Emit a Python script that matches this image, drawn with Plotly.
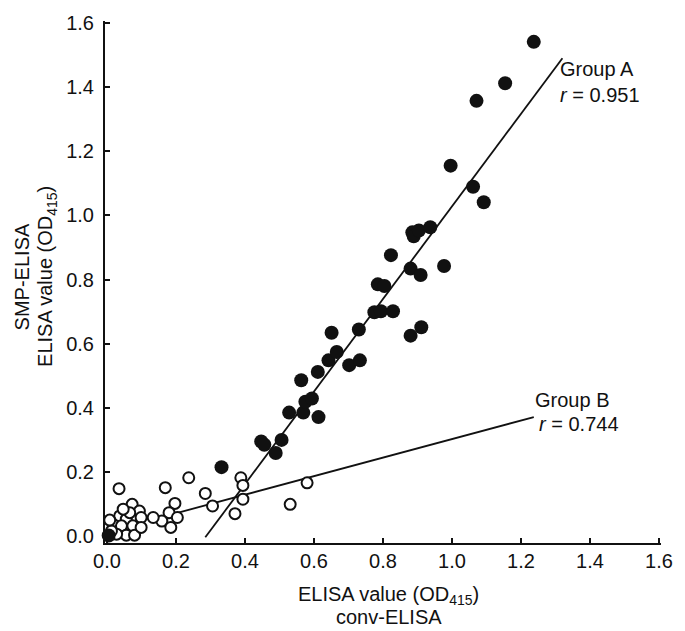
import plotly.graph_objects as go
import numpy as np

# ---- data ----
groupA_x = [0.005, 0.332, 0.447, 0.456, 0.489, 0.506, 0.528, 0.563, 0.569, 0.575,
            0.594, 0.611, 0.613, 0.642, 0.651, 0.666, 0.702, 0.730, 0.733, 0.775,
            0.794, 0.785, 0.804, 0.823, 0.829, 0.880, 0.911, 0.880, 0.909, 0.977,
            0.885, 0.889, 0.904, 0.937, 0.996, 1.061, 1.092, 1.071, 1.154, 1.237]
groupA_y = [0.002, 0.215, 0.295, 0.285, 0.259, 0.300, 0.385, 0.486, 0.385, 0.419,
            0.429, 0.512, 0.371, 0.548, 0.634, 0.574, 0.533, 0.644, 0.548, 0.698,
            0.701, 0.785, 0.780, 0.876, 0.701, 0.625, 0.651, 0.834, 0.814, 0.842,
            0.947, 0.935, 0.953, 0.963, 1.155, 1.089, 1.041, 1.357, 1.412, 1.541]

groupB_x = [0.035, 0.169, 0.237, 0.197, 0.285, 0.306, 0.371, 0.388, 0.394, 0.394,
            0.531, 0.580, 0.180, 0.204, 0.159, 0.185, 0.134, 0.018, 0.037, 0.056,
            0.073, 0.094, 0.099, 0.042, 0.075, 0.056, 0.080, 0.028, 0.099, 0.013,
            0.066, 0.047, 0.008]
groupB_y = [0.148, 0.151, 0.182, 0.102, 0.133, 0.094, 0.070, 0.182, 0.158, 0.115,
            0.099, 0.166, 0.073, 0.058, 0.047, 0.027, 0.058, 0.042, 0.063, 0.053,
            0.099, 0.078, 0.058, 0.032, 0.032, 0.003, 0.003, 0.006, 0.027, 0.016,
            0.073, 0.084, 0.050]

# regression fits: slope, intercept, x-extent
fitA_slope, fitA_intercept, fitA_xrange = 1.443, -0.415, [0.285, 1.32]
fitB_slope, fitB_intercept, fitB_xrange = 0.289, 0.0135, [0.14, 1.237]

labelA = ["Group A", "<i>r</i> = 0.951"]
labelB = ["Group B", "<i>r</i> = 0.744"]

tick_vals = [0.0, 0.2, 0.4, 0.6, 0.8, 1.0, 1.2, 1.4, 1.6]
tick_text = ["0.0", "0.2", "0.4", "0.6", "0.8", "1.0", "1.2", "1.4", "1.6"]

FONT = "Liberation Sans, Arial, Helvetica, sans-serif"
INK = "#111111"

fig = go.Figure()

for xr, m, b in [(fitA_xrange, fitA_slope, fitA_intercept),
                 (fitB_xrange, fitB_slope, fitB_intercept)]:
    xs = np.array(xr)
    fig.add_trace(go.Scatter(x=xs, y=m * xs + b, mode="lines",
                             line=dict(color=INK, width=1.8),
                             showlegend=False, hoverinfo="skip", cliponaxis=False))

fig.add_trace(go.Scatter(x=groupB_x, y=groupB_y, mode="markers",
                         marker=dict(symbol="circle", size=11, color="white",
                                     line=dict(color=INK, width=2)),
                         showlegend=False, cliponaxis=False))
fig.add_trace(go.Scatter(x=groupA_x, y=groupA_y, mode="markers",
                         marker=dict(symbol="circle", size=14, color=INK,
                                     line=dict(color=INK, width=0)),
                         showlegend=False, cliponaxis=False))

axis_common = dict(showline=True, linecolor=INK, linewidth=2, ticks="inside",
                   ticklen=5, tickwidth=2, tickcolor=INK, showgrid=False,
                   zeroline=False, tickvals=tick_vals, ticktext=tick_text,
                   tickfont=dict(family=FONT, size=20, color=INK), mirror=False)

fig.update_xaxes(range=[-0.0057, 1.6057], ticklabelstandoff=-1, **axis_common)
fig.update_yaxes(range=[-0.0215, 1.606], ticklabelstandoff=5, **axis_common)

ann = []
# group labels
ann.append(dict(x=1.307, y=1.455, text=labelA[0], xanchor="left", yanchor="middle"))
ann.append(dict(x=1.307, y=1.375, text=labelA[1], xanchor="left", yanchor="middle"))
ann.append(dict(x=1.236, y=0.425, text=labelB[0], xanchor="left", yanchor="middle"))
ann.append(dict(x=1.245, y=0.348, text=labelB[1], xanchor="left", yanchor="middle"))
for a in ann:
    a.update(xref="x", yref="y", showarrow=False,
             font=dict(family=FONT, size=20, color=INK))

# axis titles
titles = [
    dict(x=0.51, y=-0.100, text="ELISA value (OD<sub>415</sub>)", textangle=0),
    dict(x=0.51, y=-0.142, text="conv-ELISA", textangle=0),
    dict(x=-0.150, y=0.51, text="SMP-ELISA", textangle=-90),
    dict(x=-0.104, y=0.51, text="ELISA value (OD<sub>415</sub>)", textangle=-90),
]
for t in titles:
    t.update(xref="paper", yref="paper", showarrow=False, xanchor="center",
             yanchor="middle", font=dict(family=FONT, size=20, color=INK))
ann.extend(titles)

fig.update_layout(width=685, height=631,
                  margin=dict(l=105, r=13, t=14, b=88, pad=0),
                  plot_bgcolor="white", paper_bgcolor="white",
                  annotations=ann, showlegend=False)

fig.write_html("out.html", config={"displayModeBar": False},
               post_script="document.body.style.margin='0';document.body.style.overflow='hidden';")
